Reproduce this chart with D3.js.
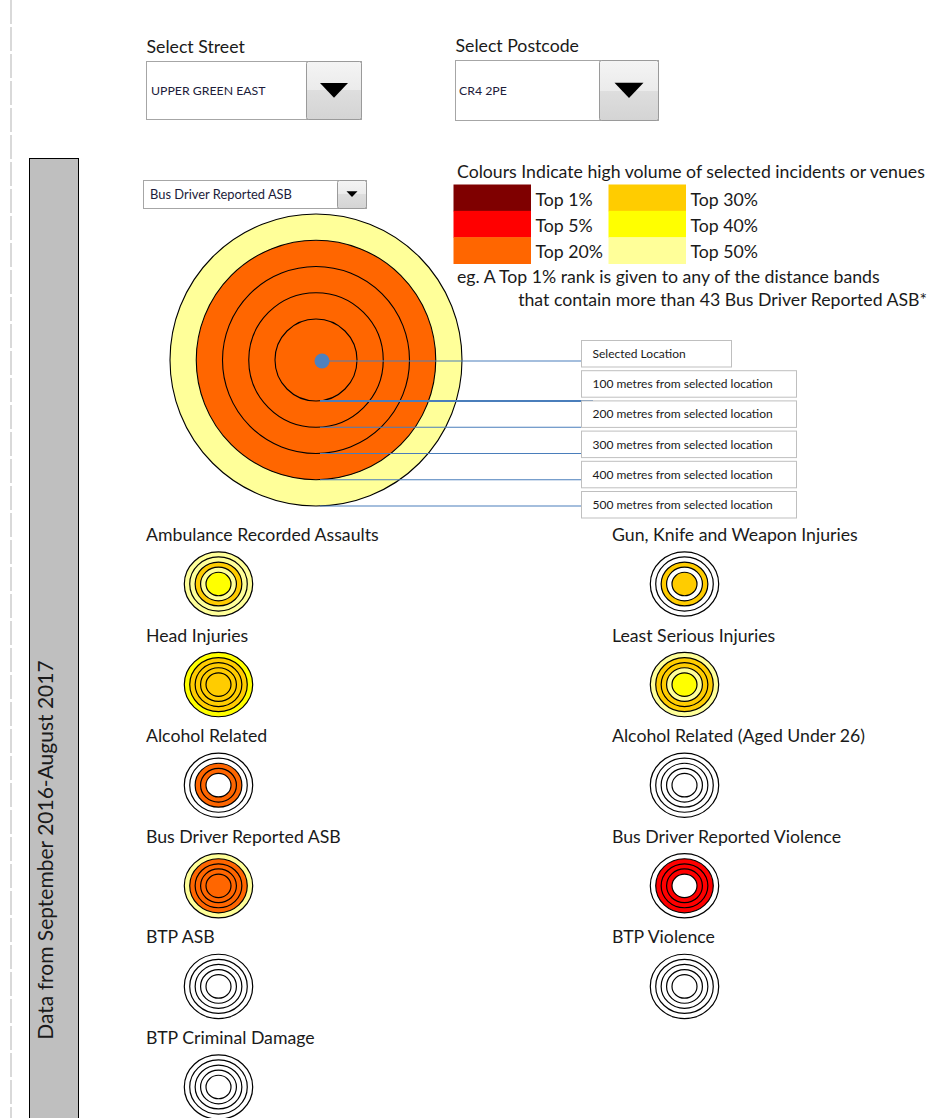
<!DOCTYPE html>
<html><head><meta charset="utf-8">
<script src="https://cdn.jsdelivr.net/npm/d3@7"></script>
<style>body{margin:0;background:#fff}svg{display:block;font-family:Lato,"Open Sans",sans-serif}</style>
</head><body><svg id="c" width="930" height="1118"></svg>
<script>
// ---------------- data ----------------
const distances = [100, 200, 300, 400, 500];
const bandLabels = ["Selected Location", "100 metres from selected location", "200 metres from selected location",
  "300 metres from selected location", "400 metres from selected location", "500 metres from selected location"];
const rankLabels = ["Top 1%", "Top 5%", "Top 20%", "Top 30%", "Top 40%", "Top 50%"];
const rankColours = ["#7f0000", "#ff0000", "#ff6600", "#ffcc00", "#ffff00", "#ffff99"];
const selectedStreet = "UPPER GREEN EAST";
const selectedPostcode = "CR4 2PE";
const selectedIncident = "Bus Driver Reported ASB";
const topThreshold = 43;
const periodLabel = "Data from September 2016-August 2017";
const incidents = ["Ambulance Recorded Assaults", "Gun, Knife and Weapon Injuries", "Head Injuries", "Least Serious Injuries",
  "Alcohol Related", "Alcohol Related (Aged Under 26)", "Bus Driver Reported ASB", "Bus Driver Reported Violence",
  "BTP ASB", "BTP Violence", "BTP Criminal Damage"];
// rank of each distance band, inner (0-100m) to outer (400-500m); null = not ranked
const incidentRanks = [
  ["Top 40%", "Top 50%", "Top 30%", "Top 50%", "Top 50%"],
  ["Top 30%", null, "Top 30%", null, null],
  ["Top 30%", "Top 30%", "Top 30%", "Top 30%", "Top 40%"],
  ["Top 40%", "Top 50%", "Top 30%", "Top 30%", "Top 50%"],
  [null, "Top 20%", "Top 20%", null, null],
  [null, null, null, null, null],
  ["Top 20%", "Top 20%", "Top 20%", "Top 20%", "Top 50%"],
  [null, "Top 5%", "Top 5%", "Top 5%", null],
  [null, null, null, null, null],
  [null, null, null, null, null],
  [null, null, null, null, null]
];

// ---------------- drawing ----------------
const svg = d3.select("#c");
const colour = d3.scaleOrdinal(rankLabels, rankColours).unknown("#ffffff");
const txt = "#1a1a1a";
const FS = 17.7;

// left dashed guide
svg.append("line").attr("x1", 11).attr("x2", 11).attr("y1", 0).attr("y2", 1118)
  .attr("stroke", "#d9d9d9").attr("stroke-width", 2).attr("stroke-dasharray", "24 3");

// grey side bar
svg.append("rect").attr("x", 29.5).attr("y", 158.5).attr("width", 49).attr("height", 1000)
  .attr("fill", "#bfbfbf").attr("stroke", "#000").attr("stroke-width", 1);
svg.append("text").attr("transform", "translate(53,850) rotate(-90)").attr("text-anchor", "middle")
  .attr("font-size", 21).attr("fill", txt).text(periodLabel);

// dropdown helper
const defs = svg.append("defs");
const g = defs.append("linearGradient").attr("id", "btn").attr("x1", 0).attr("x2", 0).attr("y1", 0).attr("y2", 1);
g.append("stop").attr("offset", "0").attr("stop-color", "#f4f4f4");
g.append("stop").attr("offset", "0.5").attr("stop-color", "#ebebeb");
g.append("stop").attr("offset", "0.5").attr("stop-color", "#dedede");
g.append("stop").attr("offset", "1").attr("stop-color", "#d4d4d4");

function dropdown(x, y, w, h, bw, label, value, fs, tri, tx) {
  const d = svg.append("g");
  if (label) d.append("text").attr("x", x + 0.5).attr("y", y - 8).attr("font-size", FS).attr("fill", txt).text(label);
  d.append("rect").attr("x", x + 0.5).attr("y", y + 0.5).attr("width", w).attr("height", h)
    .attr("fill", "#fff").attr("stroke", "#a6a6a6");
  d.append("rect").attr("x", x + w - bw + 0.5).attr("y", y + 0.5).attr("width", bw).attr("height", h).attr("rx", 2)
    .attr("fill", "url(#btn)").attr("stroke", "#9a9a9a");
  d.append("text").attr("x", x + tx).attr("y", y + h / 2 + 4.5).attr("font-size", fs).attr("fill", "#1c1c3a").text(value);
  const cx = x + w - bw / 2 + 0.5, cy = y + h / 2;
  d.append("path").attr("d", `M${cx - tri},${cy - tri * 0.5}L${cx + tri},${cy - tri * 0.5}L${cx},${cy + tri * 0.55}Z`).attr("fill", "#000");
}
dropdown(146, 61, 215, 58, 55, "Select Street", selectedStreet, 12.3, 14, 5);
dropdown(455, 60, 203, 60, 59, "Select Postcode", selectedPostcode, 12.3, 14.5, 4);
dropdown(143, 180, 223, 28, 29, null, selectedIncident, 12.9, 5.5, 7);

// legend
svg.append("text").attr("x", 457).attr("y", 178).attr("font-size", FS).attr("fill", txt)
  .text("Colours Indicate high volume of selected incidents or venues");
const legCol = d3.scalePoint().domain([0, 1]).range([453.5, 608.5]);
const legRow = d3.scaleBand().domain([0, 1, 2]).range([184.5, 263.5]);
const leg = svg.append("g").selectAll("g").data(rankLabels).join("g")
  .attr("transform", (d, i) => `translate(${legCol(Math.floor(i / 3))},${legRow(i % 3)})`);
leg.append("rect").attr("width", 77.5).attr("height", legRow.bandwidth() + 0.5).attr("fill", d => colour(d));
leg.append("text").attr("x", 82).attr("y", legRow.bandwidth() - 5).attr("font-size", FS).attr("fill", txt).text(d => d);
svg.append("text").attr("x", 457).attr("y", 283).attr("font-size", FS).attr("fill", txt)
  .text("eg. A Top 1% rank is given to any of the distance bands");
svg.append("text").attr("x", 927).attr("y", 306).attr("text-anchor", "end").attr("font-size", FS).attr("fill", txt)
  .text(`that contain more than ${topThreshold} ${selectedIncident}*`);

// main target
const bigR = d3.scaleLinear().domain([100, 500]).range([41, 146]);
const bigC = {x: 316, y: 360};
const selRanks = incidentRanks[incidents.indexOf(selectedIncident)];
const bands = distances.map((d, i) => ({d, rank: selRanks[i]})).reverse();
svg.append("g").selectAll("circle").data(bands).join("circle")
  .attr("cx", bigC.x).attr("cy", bigC.y).attr("r", d => bigR(d.d))
  .attr("fill", d => colour(d.rank)).attr("stroke", "#000").attr("stroke-width", 1.1);

// leader lines and label boxes
const boxY = d3.scalePoint().domain(bandLabels).range([353.5, 504.5]);
const lineY = [bigC.y + 1, ...distances.map(d => bigC.y + bigR(d))];
const lines = svg.append("g");
bandLabels.forEach((b, i) => {
  lines.append("line").attr("x1", i === 0 ? 322 : 320).attr("x2", i === 1 ? 593 : 581)
    .attr("y1", lineY[i]).attr("y2", lineY[i]).attr("stroke", "#4a7ebb").attr("stroke-width", i === 1 ? 2 : 1.1);
});
svg.append("circle").attr("cx", 322).attr("cy", bigC.y + 1).attr("r", 7.5).attr("fill", "#4f81bd");
const boxes = svg.append("g").selectAll("g").data(bandLabels).join("g")
  .attr("transform", d => `translate(581.5,${boxY(d) - 13})`);
boxes.append("rect").attr("width", (d, i) => i === 0 ? 150 : 215).attr("height", 26.5)
  .attr("fill", "#fff").attr("stroke", "#bfbfbf");
boxes.append("text").attr("x", 11).attr("y", 17.5).attr("font-size", 12).attr("fill", txt).text(d => d);

// small multiples
const colX = d3.scalePoint().domain([0, 1]).range([218.5, 684.5]);
const rowY = d3.scaleLinear().domain([0, 5]).range([541, 1044]);
const smallR = d3.scaleLinear().domain([100, 500]).range([12.5, 34.2]);
const small = svg.append("g").selectAll("g").data(incidents).join("g")
  .attr("transform", (d, i) => `translate(${colX(i % 2)},${rowY(Math.floor(i / 2))})`);
small.append("text").attr("x", -72.5).attr("y", 0).attr("font-size", FS).attr("fill", txt).text(d => d);
small.each(function (name, k) {
  const data = distances.map((d, i) => ({d, rank: incidentRanks[k][i]})).reverse();
  d3.select(this).selectAll("ellipse").data(data).join("ellipse")
    .attr("cx", 0).attr("cy", 43).attr("rx", d => smallR(d.d)).attr("ry", d => smallR(d.d) * 0.94)
    .attr("fill", d => colour(d.rank)).attr("stroke", "#000").attr("stroke-width", 1.2);
});
</script></body></html>
